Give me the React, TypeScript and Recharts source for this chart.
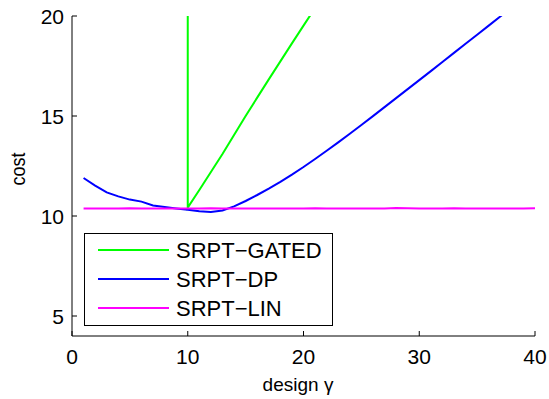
import React from 'react';
import { LineChart, Line, XAxis, YAxis, Legend, Label } from 'recharts';

const FONT = '"Liberation Sans", Arial, Helvetica, sans-serif';
const TICK = 5;

// design gamma sampled at integer points
const gammaValues = [1, 2, 3, 4, 5, 6, 7, 8, 9, 10, 11, 12, 13, 14, 15, 16, 17, 18, 19, 20,
  21, 22, 23, 24, 25, 26, 27, 28, 29, 30, 31, 32, 33, 34, 35, 36, 37, 38, 39, 40];

const dpCost = [11.9, 11.52, 11.18, 10.98, 10.82, 10.72, 10.53, 10.45, 10.38, 10.31,
  10.24, 10.2, 10.28, 10.48, 10.75, 11.05, 11.37, 11.71, 12.07, 12.45,
  12.85, 13.26, 13.68, 14.11, 14.55, 14.995, 15.445, 15.895, 16.345, 16.795,
  17.245, 17.7, 18.155, 18.61, 19.065, 19.52, 19.975, 20.43, 20.89, 21.35];

const linCost = [10.38, 10.38, 10.37, 10.38, 10.39, 10.38, 10.38, 10.37, 10.38, 10.38,
  10.38, 10.39, 10.38, 10.38, 10.38, 10.38, 10.37, 10.38, 10.38, 10.38,
  10.39, 10.38, 10.38, 10.38, 10.38, 10.38, 10.38, 10.4, 10.39, 10.38,
  10.38, 10.38, 10.39, 10.38, 10.38, 10.38, 10.38, 10.38, 10.38, 10.39];

// gated policy is unbounded below gamma = 10
const gatedGamma = [10, 10, 11, 12, 13, 14, 15, 16, 17, 18, 19, 20, 21, 22];
const gatedCost = [60, 10.42, 11.3, 12.2, 13.1, 14.05, 15.0, 15.92, 16.83, 17.73, 18.63, 19.52, 20.4, 21.3];

const xTicks = [0, 10, 20, 30, 40];
const yTicks = [5, 10, 15, 20];

const dpData = gammaValues.map((x, i) => ({ x, y: dpCost[i] }));
const linData = gammaValues.map((x, i) => ({ x, y: linCost[i] }));
const gatedData = gatedGamma.map((x, i) => ({ x, y: gatedCost[i] }));

const SERIES = [
  { name: 'SRPT\u2212GATED', color: '#00ff00', data: gatedData },
  { name: 'SRPT\u2212DP', color: '#0000ff', data: dpData },
  { name: 'SRPT\u2212LIN', color: '#ff00ff', data: linData },
];

const BottomTick = ({ x, y, payload }: any) => (
  <g>
    <line x1={x} y1={y} x2={x} y2={y - TICK} stroke="#000" />
    <text x={x} y={y + 28} textAnchor="middle" fontSize={21} fontFamily={FONT} fill="#000">{payload.value}</text>
  </g>
);

const TopTick = ({ x, y }: any) => <line x1={x} y1={y} x2={x} y2={y + TICK} stroke="#000" />;

const LeftTick = ({ x, y, payload }: any) => (
  <g>
    <line x1={x} y1={y} x2={x + TICK} y2={y} stroke="#000" />
    <text x={x - 8} y={y + 7.5} textAnchor="end" fontSize={21} fontFamily={FONT} fill="#000">{payload.value}</text>
  </g>
);

const RightTick = ({ x, y }: any) => <line x1={x} y1={y} x2={x - TICK} y2={y} stroke="#000" />;

const LegendBox = () => (
  <svg width={249} height={93} style={{ display: 'block' }}>
    <rect x={0.5} y={0.5} width={248} height={92} fill="#fff" stroke="#000" />
    {SERIES.map((s, i) => (
      <g key={s.name}>
        <line x1={14} x2={85} y1={17 + 29 * i} y2={17 + 29 * i} stroke={s.color} strokeWidth={2} />
        <text x={92} y={25 + 29 * i} fontSize={22} fontFamily={FONT} fill="#000">{s.name}</text>
      </g>
    ))}
  </svg>
);

export default function App() {
  return (
    <div style={{ position: 'absolute', left: 0, top: 0, background: '#fff' }}>
      <LineChart width={549} height={399} margin={{ top: 16, right: 14, left: 0, bottom: 0 }}>
        <XAxis xAxisId="b" dataKey="x" type="number" domain={[0, 40]} ticks={xTicks} interval={0}
          allowDataOverflow height={63} tickSize={0} tickMargin={0} tickLine={false}
          axisLine={{ stroke: '#000' }} tick={<BottomTick />}>
          <Label content={() => (
            <text x={298} y={391} textAnchor="middle" fontSize={19} fontFamily={FONT} fill="#000">design γ</text>
          )} />
        </XAxis>
        <XAxis xAxisId="t" orientation="top" type="number" domain={[0, 40]} ticks={xTicks} interval={0}
          allowDataOverflow height={0} tickSize={0} tickMargin={0} tickLine={false}
          axisLine={{ stroke: '#000' }} tick={<TopTick />} />
        <YAxis yAxisId="l" type="number" domain={[4, 20]} ticks={yTicks} interval={0}
          allowDataOverflow width={72} tickSize={0} tickMargin={0} tickLine={false}
          axisLine={{ stroke: '#000' }} tick={<LeftTick />}>
          <Label content={() => (
            <text transform="translate(25,169) rotate(-90) scale(0.9,1.05)" textAnchor="middle"
              fontSize={20} fontFamily={FONT} fill="#000">cost</text>
          )} />
        </YAxis>
        <YAxis yAxisId="r" orientation="right" type="number" domain={[4, 20]} ticks={yTicks} interval={0}
          allowDataOverflow width={0} tickSize={0} tickMargin={0} tickLine={false}
          axisLine={{ stroke: '#000' }} tick={<RightTick />} />
        {SERIES.map((s) => (
          <Line key={s.name} xAxisId="b" yAxisId="l" data={s.data} dataKey="y" type="linear"
            stroke={s.color} strokeWidth={2} dot={false} isAnimationActive={false} />
        ))}
        <Legend layout="horizontal" verticalAlign="middle" align="center"
          wrapperStyle={{ left: 84, top: 233, width: 249, height: 93 }} content={() => <LegendBox />} />
      </LineChart>
    </div>
  );
}
